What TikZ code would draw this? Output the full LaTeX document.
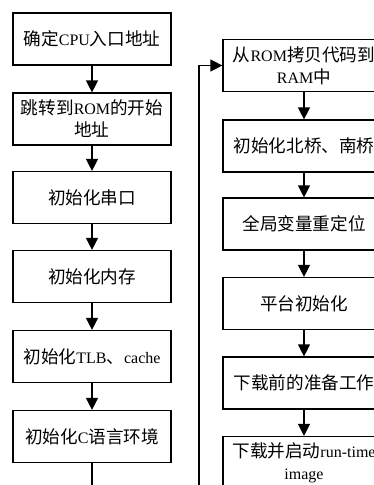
\documentclass[tikz,border=0pt]{standalone}
\usepackage{fontspec}
\setmainfont{Liberation Serif}
\newfontfamily\cjk[Scale=1.1]{Noto Sans CJK SC}
\newcommand\zh[1]{{\cjk #1}}
\newcommand\ov[1]{\makebox[0pt]{#1}}
\usetikzlibrary{arrows.meta}
\begin{document}
\begin{tikzpicture}[x=1pt,y=1pt,
  box/.style={draw, line width=1.2pt, minimum height=52pt, inner sep=0pt, align=center,
    font=\fontsize{16}{22}\selectfont},
  lbox/.style={box, minimum width=158pt},
  rbox/.style={box, minimum width=162pt},
  arr/.style={-{Triangle[width=12pt,length=12pt]}, line width=1.3pt}]
\clip (0,0) rectangle (374,-485);
\fill[white] (0,0) rectangle (374,-485);
\node[lbox] (L1) at (92,-39) {\zh{确定}CPU\zh{入口地址}};
\node[lbox] (L2) at (92,-119) {\zh{跳转到}ROM\zh{的开始}\\\zh{地址}};
\node[lbox] (L3) at (92,-197.5) {\zh{初始化串口}};
\node[lbox] (L4) at (92,-276.5) {\zh{初始化内存}};
\node[lbox] (L5) at (92,-356.5) {\zh{初始化}TLB\zh{、}cache};
\node[lbox] (L6) at (92,-436.5) {\zh{初始化}C\zh{语言环境}};
\node[rbox] (R1) at (304,-65.5) {\ov{\zh{从}ROM\zh{拷贝代码到}}\\\ov{RAM\zh{中}}};
\node[rbox] (R2) at (304,-146) {\ov{\zh{初始化北桥、南桥}}};
\node[rbox] (R3) at (304,-224) {\ov{\zh{全局变量重定位}}};
\node[rbox] (R4) at (304,-303.5) {\ov{\zh{平台初始化}}};
\node[rbox] (R5) at (304,-383) {\ov{\zh{下载前的准备工作}}};
\node[rbox] (R6) at (304,-462.5) {\ov{\zh{下载并启动}run-time}\\\ov{image}};
\foreach \a/\b in {L1/L2,L2/L3,L3/L4,L4/L5,L5/L6,R1/R2,R2/R3,R3/R4,R4/R5,R5/R6}
  \draw[arr] (\a.south) -- (\b.north);
\coordinate (b1) at (92,-500);
\coordinate (b2) at (199,-500);
\draw[arr] (L6.south) -- (b1) -- (b2) |- (R1.west);
\end{tikzpicture}
\end{document}
